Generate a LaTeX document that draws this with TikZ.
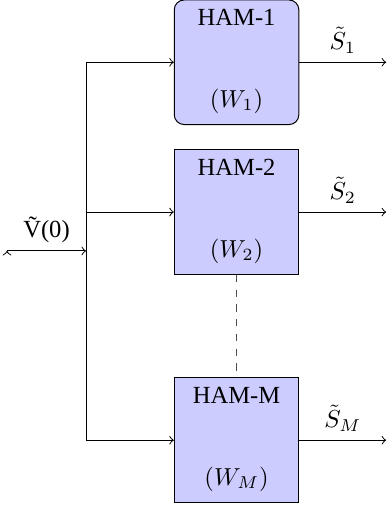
\documentclass[tikz,border=0pt]{standalone}
\usepackage{fontspec}
\setmainfont{Liberation Serif}
\begin{document}
\begin{tikzpicture}[ham/.style={draw, fill=blue!20, minimum width=1.78cm, minimum height=1.78cm}]
	\useasboundingbox (0,0) rectangle (5.53,7.23);
	
	% 1. Ba khoi HAM
	\node[ham, rounded corners=4pt] (h1) at (3.38,6.34) {};
	\node[ham] (h2) at (3.38,4.20) {};
	\node[ham] (hM) at (3.38,0.94) {};
	\node[below=0.5pt] (h1t) at (h1.north) {HAM-1};
	\node[above=1.2pt] (h1w) at (h1.south) {$(W_1)$};
	\node[below=0.5pt] (h2t) at (h2.north) {HAM-2};
	\node[above=1.2pt] (h2w) at (h2.south) {$(W_2)$};
	\node[below=0.5pt] (hMt) at (hM.north) {HAM-M};
	\node[above=1.2pt] (hMw) at (hM.south) {$(W_M)$};
	\draw[dashed, black!70] (h2.south) -- (hM.north);
	
	% 2. Dau vao va thanh phan phoi
	\coordinate (vin) at (0.1,3.644);
	\coordinate (bus) at (1.229,3.644);
	\draw[->] ([yshift=-1pt]vin) -- (vin);
	\draw[->] (vin) -- node[above] (vlab) {\~{V}(0)} (bus);
	\draw (bus |- h1.west) -- (bus |- hM.west);
	\draw[->] (bus |- h1.west) -- (h1.west);
	\draw[->] (bus |- h2.west) -- (h2.west);
	\draw[->] (bus |- hM.west) -- (hM.west);
	
	% 3. Dau ra
	\coordinate (o1) at ([xshift=1.24cm]h1.east);
	\coordinate (o2) at ([xshift=1.24cm]h2.east);
	\coordinate (oM) at ([xshift=1.24cm]hM.east);
	\draw[->] (h1.east) -- node[above] (s1) {$\tilde{S}_1$} (o1);
	\draw[->] (h2.east) -- node[above] (s2) {$\tilde{S}_2$} (o2);
	\draw[->] (hM.east) -- node[above] (sM) {$\tilde{S}_M$} (oM);
	
\end{tikzpicture}
\end{document}
